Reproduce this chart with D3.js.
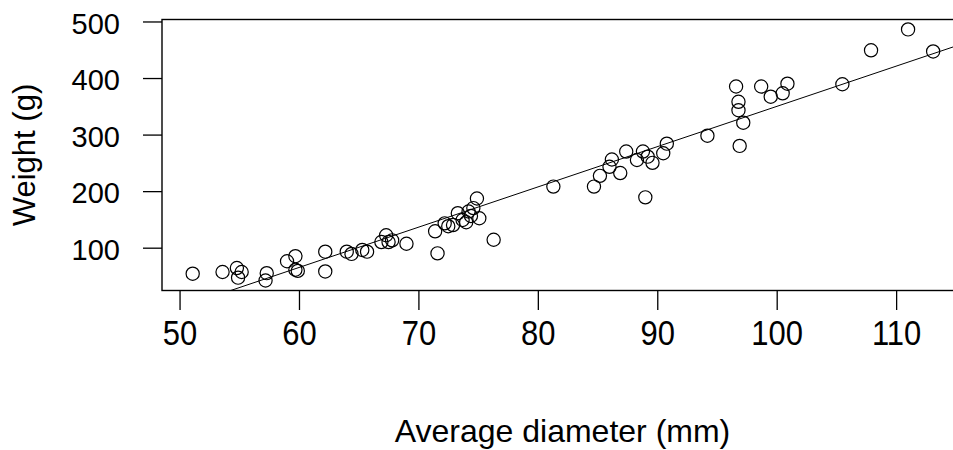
<!DOCTYPE html>
<html>
<head>
<meta charset="utf-8">
<script src="https://cdn.jsdelivr.net/npm/d3@7"></script>
<style>
  body { margin: 0; background: #fff; }
  text { font-family: "Liberation Sans", Arial, sans-serif; fill: #000; }
</style>
</head>
<body>
<div id="chart"></div>
<script>
// Average diameter (mm) of each fruit
var diameter = [51.1, 53.6, 54.8, 55.2, 54.9, 57.3, 57.2, 59.0, 59.7, 59.7,
    59.9, 62.2, 62.2, 64.0, 64.4, 65.3, 65.7, 67.3, 66.9, 67.5,
    67.8, 69.0, 71.4, 71.6, 72.2, 72.5, 72.9, 73.3, 73.7, 74.0,
    74.2, 74.4, 74.6, 74.9, 75.1, 76.3, 81.3, 84.7, 85.2, 86.0,
    86.2, 86.9, 87.4, 88.3, 88.8, 89.2, 89.6, 89.0, 90.5, 90.8,
    94.2, 96.6, 96.8, 96.8, 97.2, 96.9, 98.7, 99.5, 100.5, 100.9,
    105.5, 107.9, 111.0, 113.1];
// Weight (g) of each fruit
var weight = [54, 57, 64, 57, 47, 55, 42, 76, 85, 61,
    59, 93, 58, 93, 89, 96, 93, 122, 110, 110,
    113, 107, 129, 90, 143, 138, 140, 161, 149, 145,
    164, 156, 170, 187, 152, 114, 208, 208, 227, 243,
    256, 232, 270, 255, 270, 261, 250, 189, 267, 284,
    298, 385, 358, 343, 321, 280, 385, 367, 373, 390,
    389, 449, 486, 447];

var xTicks = [50, 60, 70, 80, 90, 100, 110];
var yTicks = [100, 200, 300, 400, 500];

// fitted line (abline)
var fitIntercept = -362.2;
var fitSlope = 7.12;

var W = 953, H = 450;
var margin = { top: 19.5, left: 162 };
var plotW = 801, plotH = 271;

var svg = d3.select("#chart").append("svg")
    .attr("width", W)
    .attr("height", H);

svg.append("rect").attr("width", W).attr("height", H).attr("fill", "#fff");

var x = d3.scaleLinear().domain([48.53, 115.6]).range([margin.left, margin.left + plotW]);
var y = d3.scaleLinear().domain([24.3, 503.5]).range([margin.top + plotH, margin.top]);

svg.append("clipPath").attr("id", "plotclip")
    .append("rect")
    .attr("x", margin.left).attr("y", margin.top)
    .attr("width", plotW).attr("height", plotH);

// x axis
var xAxis = svg.append("g")
    .attr("transform", "translate(0," + (margin.top + plotH) + ")")
    .call(d3.axisBottom(x).tickValues(xTicks).tickSize(19.5).tickPadding(9));
xAxis.select(".domain").remove();
xAxis.selectAll("line").attr("stroke", "#000").attr("stroke-width", 1.3);
xAxis.selectAll("text").style("font-size", "31px")
    .attr("transform", "scale(1,1.12)").attr("y", 27);

// y axis
var yAxis = svg.append("g")
    .attr("transform", "translate(" + margin.left + ",0)")
    .call(d3.axisLeft(y).tickValues(yTicks).tickSize(19).tickPadding(23));
yAxis.select(".domain").remove();
yAxis.selectAll("line").attr("stroke", "#000").attr("stroke-width", 1.3);
yAxis.selectAll("text").style("font-size", "29px").attr("dy", "0.4em");

// plot box
svg.append("rect")
    .attr("x", margin.left).attr("y", margin.top)
    .attr("width", plotW).attr("height", plotH)
    .attr("fill", "none").attr("stroke", "#000").attr("stroke-width", 1.4);

// regression line
var line = d3.line()
    .x(function (d) { return x(d); })
    .y(function (d) { return y(fitIntercept + fitSlope * d); });
svg.append("path")
    .attr("clip-path", "url(#plotclip)")
    .attr("d", line(x.domain()))
    .attr("fill", "none")
    .attr("stroke", "#000")
    .attr("stroke-width", 1);

// points
svg.append("g")
    .selectAll("circle")
    .data(diameter)
    .enter()
    .append("circle")
    .attr("cx", function (d) { return x(d); })
    .attr("cy", function (d, i) { return y(weight[i]); })
    .attr("r", 6.6)
    .attr("fill", "none")
    .attr("stroke", "#000")
    .attr("stroke-width", 1.2);

// axis titles
svg.append("text")
    .attr("x", x((48.53 + 115.6) / 2))
    .attr("y", 442)
    .attr("text-anchor", "middle")
    .style("font-size", "32px")
    .text("Average diameter (mm)");

svg.append("text")
    .attr("transform", "translate(35," + (margin.top + plotH / 2) + ") rotate(-90)")
    .attr("text-anchor", "middle")
    .style("font-size", "31px")
    .text("Weight (g)");
</script>
</body>
</html>
